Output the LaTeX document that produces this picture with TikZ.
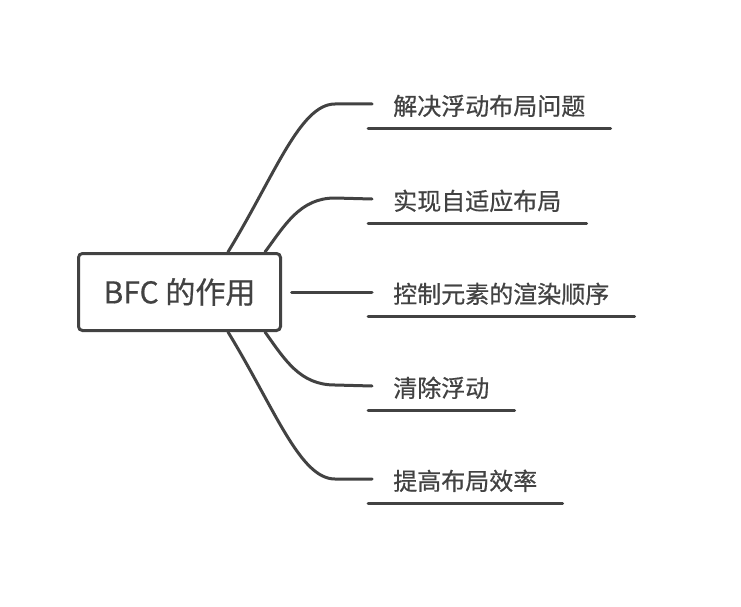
\documentclass[tikz,border=0pt]{standalone}
\usepackage{fontspec}
\setmainfont{Noto Sans CJK SC}[FakeBold=0.6]

\definecolor{branchgray}{HTML}{424242}

\tikzset{
  branch/.style={draw=branchgray, line width=2.25pt, line cap=round},
  central/.style={draw=branchgray, line width=2.25pt, rounded corners=3pt,
    minimum width=151.5pt, minimum height=57.75pt, text=branchgray,
    font=\fontsize{22.5pt}{22.5pt}\selectfont},
  topic/.style={anchor=base west, inner xsep=18.75pt, inner ysep=0pt,
    text height=18pt, text depth=9.75pt, text=branchgray,
    font=\fontsize{18pt}{18pt}\selectfont},
}

\begin{document}
\begin{tikzpicture}[x=0.75pt, y=-0.75pt]
\useasboundingbox (0,0) rectangle (741,606);

% central topic
\node[central] (bfc) at (179.5,292) {BFC 的作用};

% sub topics
\node[topic] (t1) at (368,115) {解决浮动布局问题};
\node[topic] (t2) at (368,210) {实现自适应布局};
\node[topic] (t3) at (368,303) {控制元素的渲染顺序};
\node[topic] (t4) at (368,397) {清除浮动};
\node[topic] (t5) at (368,490) {提高布局效率};

% underlines
\foreach \t in {t1,t2,t3,t4,t5}
  \draw[branch] (\t.south west) -- (\t.south east);

% branch ends
\foreach \t in {1,...,5}
  \coordinate (e\t) at ([shift={(4,-11)}]t\t.base west);
\coordinate (b1) at ([shift={(48.5,0)}]bfc.north);
\coordinate (b2) at ([shift={(85.5,0)}]bfc.north);
\coordinate (b3) at ([shift={(9.5,0)}]bfc.east);
\coordinate (b4) at ([shift={(85.5,0)}]bfc.south);
\coordinate (b5) at ([shift={(48.5,0)}]bfc.south);

% branches
\draw[branch] (b1) .. controls (275,175) and (300,104) .. (335,104) -- (e1);
\draw[branch] (b2) .. controls (285,225) and (300,198) .. (335,198) -- (e2);
\draw[branch] (b3) -- (e3);
\draw[branch] (b4) .. controls (285,360) and (300,385) .. (335,385) -- (e4);
\draw[branch] (b5) .. controls (275,409) and (300,479) .. (335,479) -- (e5);

\end{tikzpicture}
\end{document}
